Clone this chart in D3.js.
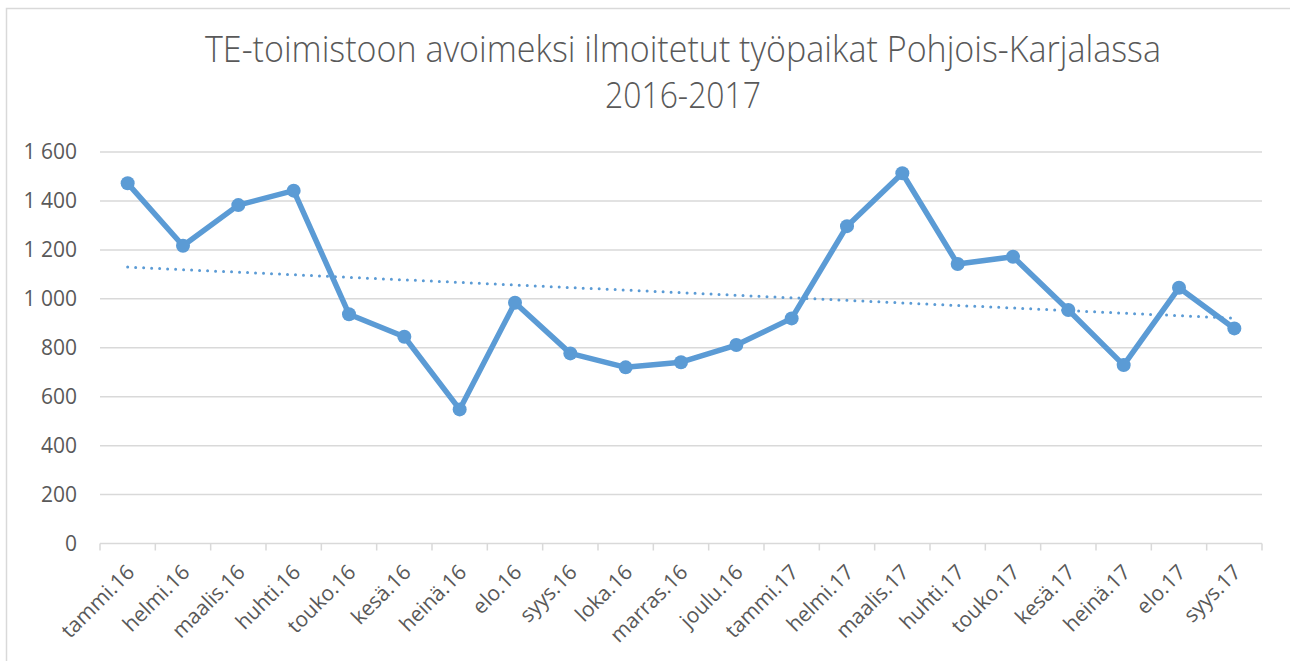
<!DOCTYPE html>
<html>
<head>
<meta charset="utf-8">
<script src="https://cdn.jsdelivr.net/npm/d3@7"></script>
<style>
  body { margin: 0; background: #fff; }
  text { font-family: "Open Sans", sans-serif; fill: #595959; }
</style>
</head>
<body>
<div id="chart"></div>
<script>
// Months shown on the x axis
const months = [
    "tammi.16", "helmi.16", "maalis.16", "huhti.16", "touko.16", "kesä.16", "heinä.16",
    "elo.16", "syys.16", "loka.16", "marras.16", "joulu.16", "tammi.17", "helmi.17",
    "maalis.17", "huhti.17", "touko.17", "kesä.17", "heinä.17", "elo.17", "syys.17"
];

// Open vacancies reported to the TE office
const vacancies = [
    1472, 1217, 1383, 1442, 937, 845, 548, 984, 777, 720, 741,
    811, 920, 1297, 1513, 1142, 1172, 954, 729, 1045, 879
];

const yTicks = [0, 200, 400, 600, 800, 1000, 1200, 1400, 1600];
const titleLines = ["TE-toimistoon avoimeksi ilmoitetut työpaikat Pohjois-Karjalassa", "2016-2017"];

const width = 1290, height = 661;
const plot = { left: 100, right: 1262, top: 152, bottom: 543.5 };
const blue = "#5b9bd5", grid = "#d9d9d9";

const svg = d3.select("#chart").append("svg")
    .attr("width", width)
    .attr("height", height);

// chart border (only top/left visible in the frame)
svg.append("rect")
    .attr("x", 6.5).attr("y", 8.5)
    .attr("width", 1300).attr("height", 700)
    .attr("fill", "none")
    .attr("stroke", grid)
    .attr("stroke-width", 1.5);

// title
svg.append("text")
    .attr("x", 683).attr("y", 62)
    .attr("text-anchor", "middle")
    .attr("font-size", 36)
    .attr("font-weight", 300)
    .attr("textLength", 956)
    .attr("lengthAdjust", "spacingAndGlyphs")
    .text(titleLines[0]);
svg.append("text")
    .attr("x", 683).attr("y", 108)
    .attr("text-anchor", "middle")
    .attr("font-size", 36)
    .attr("font-weight", 300)
    .attr("textLength", 156)
    .attr("lengthAdjust", "spacingAndGlyphs")
    .text(titleLines[1]);

const x = d3.scaleBand().domain(months).range([plot.left, plot.right]);
const y = d3.scaleLinear().domain([0, 1600]).range([plot.bottom, plot.top]);
const cx = d => x(d) + x.bandwidth() / 2;

// gridlines
svg.append("g").selectAll("line")
    .data(yTicks)
    .enter().append("line")
    .attr("x1", plot.left).attr("x2", plot.right)
    .attr("y1", d => y(d)).attr("y2", d => y(d))
    .attr("stroke", grid)
    .attr("stroke-width", 1.5);

// y labels
const fmt = d3.format(",");
svg.append("g").selectAll("text")
    .data(yTicks)
    .enter().append("text")
    .attr("x", 77)
    .attr("y", d => y(d))
    .attr("dy", "0.35em")
    .attr("text-anchor", "end")
    .attr("font-size", 21)
    .text(d => fmt(d).replace(",", " "));

// x axis ticks at category boundaries
const bounds = months.map(m => x(m)).concat([plot.right]);
svg.append("g").selectAll("line")
    .data(bounds)
    .enter().append("line")
    .attr("x1", d => d).attr("x2", d => d)
    .attr("y1", plot.bottom).attr("y2", plot.bottom + 7)
    .attr("stroke", grid)
    .attr("stroke-width", 1.5);

// x labels
svg.append("g").selectAll("text")
    .data(months)
    .enter().append("text")
    .attr("transform", d => `translate(${cx(d) + 8},${plot.bottom + 30}) rotate(-45)`)
    .attr("text-anchor", "end")
    .attr("font-size", 21)
    .text(d => d);

// linear trendline (least squares)
const idx = d3.range(vacancies.length);
const mx = d3.mean(idx), my = d3.mean(vacancies);
const slope = d3.sum(idx, i => (i - mx) * (vacancies[i] - my)) / d3.sum(idx, i => (i - mx) ** 2);
const trend = idx.map(i => my + slope * (i - mx));
svg.append("line")
    .attr("x1", cx(months[0])).attr("y1", y(trend[0]))
    .attr("x2", cx(months[months.length - 1])).attr("y2", y(trend[trend.length - 1]))
    .attr("stroke", blue)
    .attr("stroke-width", 3)
    .attr("stroke-linecap", "round")
    .attr("stroke-dasharray", "0 8");

// data line
const line = d3.line().x((d, i) => cx(months[i])).y(d => y(d));
svg.append("path")
    .datum(vacancies)
    .attr("d", line)
    .attr("fill", "none")
    .attr("stroke", blue)
    .attr("stroke-width", 5.5)
    .attr("stroke-linejoin", "round");

svg.append("g").selectAll("circle")
    .data(vacancies)
    .enter().append("circle")
    .attr("cx", (d, i) => cx(months[i]))
    .attr("cy", d => y(d))
    .attr("r", 7)
    .attr("fill", blue);
</script>
</body>
</html>
